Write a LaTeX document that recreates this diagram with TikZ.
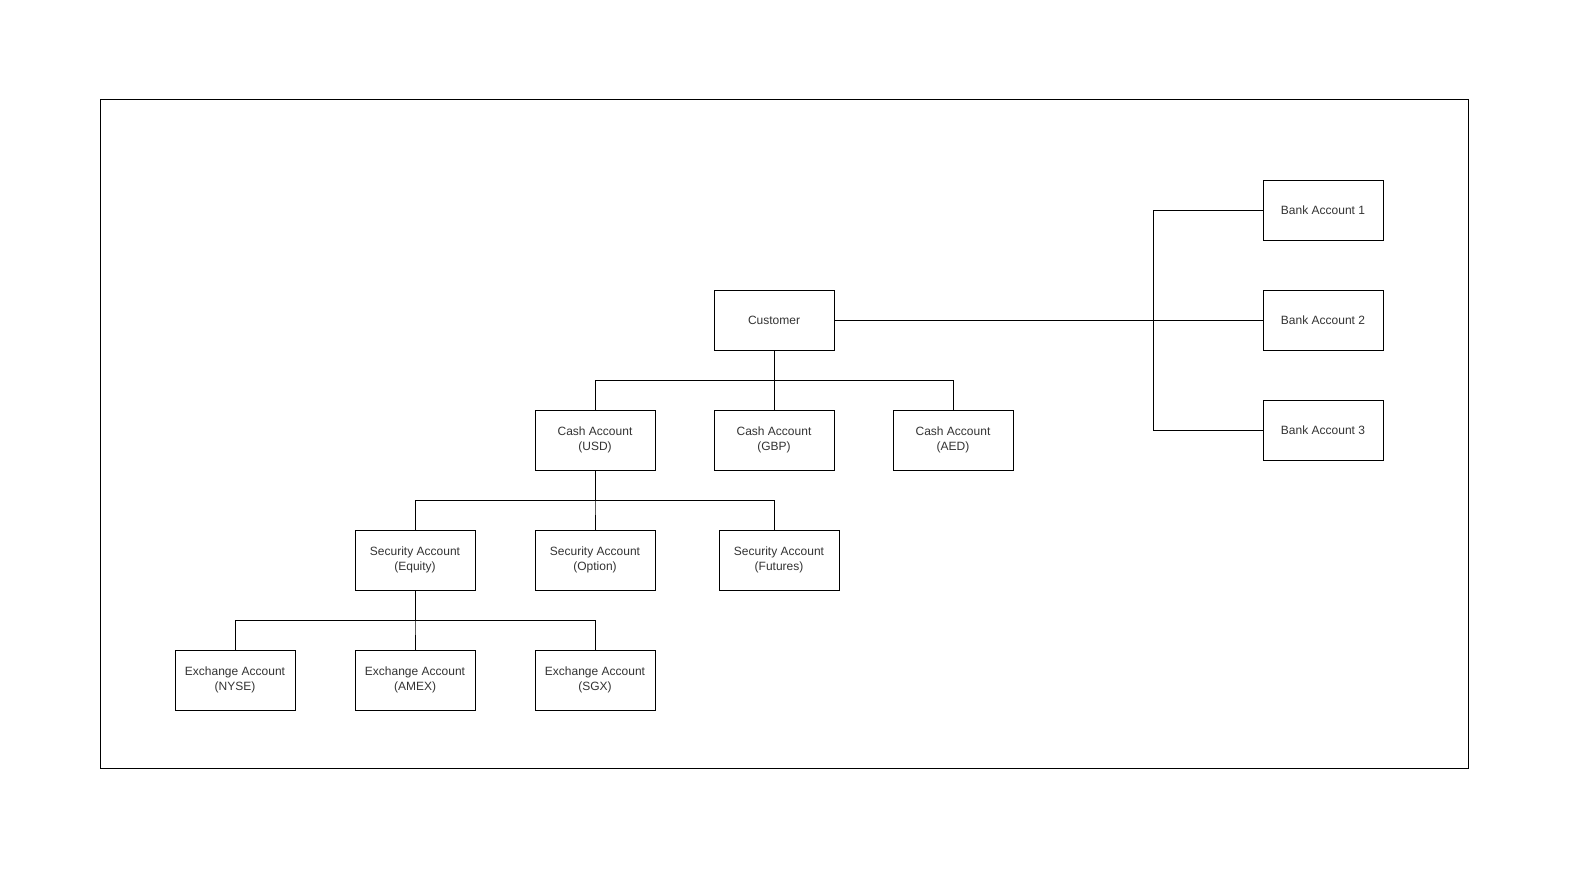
\documentclass[tikz,border=0pt]{standalone}
\usepackage{fontspec}
\setmainfont{Liberation Sans}
\usepackage{xcolor}
\definecolor{ink}{HTML}{333333}
\usetikzlibrary{positioning,calc}
\tikzset{
  acct/.style={draw=black,line width=1pt,minimum width=120pt,minimum height=60pt,inner sep=0pt,
    align=center,text=ink,font=\fontsize{12}{15}\selectfont},
  link/.style={draw=black,line width=1pt},
  drop/.style={to path={-- ++(0,30) -| (\tikztotarget)}},
}
\begin{document}
\begin{tikzpicture}[x=1pt,y=-1pt]
\useasboundingbox (0,0) rectangle (1571,872);
\draw[line width=1pt] (100,100) rectangle (1468,768);
% customer and cash accounts
\node[acct] (cust) at (774,320) {Customer};
\node[acct] (usd) at (595,440) {Cash Account\\(USD)};
\node[acct] (gbp) at (774,440) {Cash Account\\(GBP)};
\node[acct] (aed) at (953,440) {Cash Account\\(AED)};
% security accounts
\node[acct] (eqty) at (415,560) {Security Account\\(Equity)};
\node[acct] (optn) at (595,560) {Security Account\\(Option)};
\node[acct] (futr) at (779,560) {Security Account\\(Futures)};
% exchange accounts
\node[acct] (nyse) at (235,680) {Exchange Account\\(NYSE)};
\node[acct] (amex) at (415,680) {Exchange Account\\(AMEX)};
\node[acct] (sgx) at (595,680) {Exchange Account\\(SGX)};
% bank accounts
\node[acct] (bank1) at (1323,210) {Bank Account 1};
\node[acct] (bank2) at (1323,320) {Bank Account 2};
\node[acct] (bank3) at (1323,430) {Bank Account 3};
\coordinate (trunk) at (1153,320);
% tree links
\foreach \u/\v in {cust/usd,cust/gbp,cust/aed,usd/eqty,usd/optn,eqty/nyse,eqty/amex,eqty/sgx}
  \draw[link] (\u.south) to[drop] (\v.north);
\draw[link] (usd.south) to[drop] ([xshift=-5pt]futr.north);
\draw[link] (cust.east) -- (bank2.west);
\draw[link] (trunk) |- (bank1.west);
\draw[link] (trunk) |- (bank3.west);
\end{tikzpicture}
\end{document}
